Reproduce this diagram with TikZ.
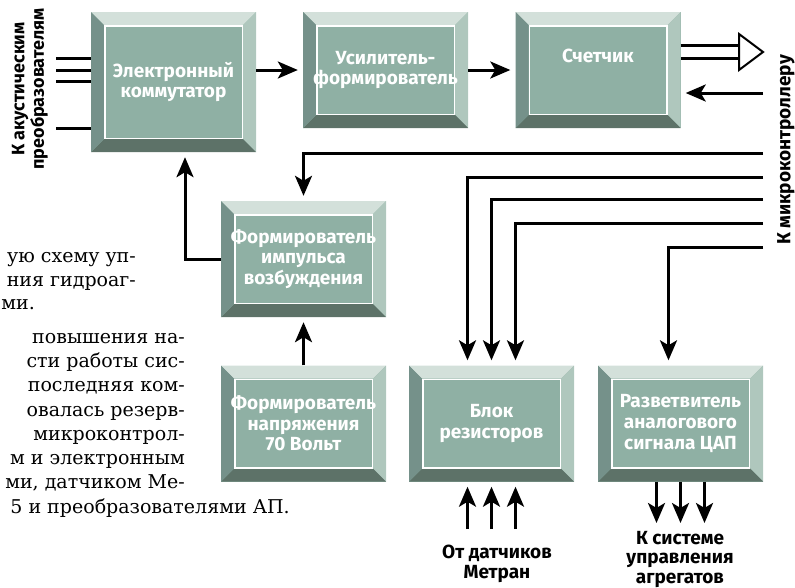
\documentclass[tikz,border=0pt]{standalone}
\usepackage{fontspec}
\setmainfont{DejaVu Serif}
\newfontfamily\blokfont{Fira Sans}
\usetikzlibrary{arrows.meta,calc}

\definecolor{bevTop}{HTML}{D3E0DA}
\definecolor{bevLeft}{HTML}{75918A}
\definecolor{bevRight}{HTML}{AFC7BD}
\definecolor{bevBottom}{HTML}{5D7268}
\definecolor{bevInner}{HTML}{8FB0A4}

\tikzset{
  blok/.style={minimum width=165pt, minimum height=116pt, inner sep=0pt,
    fill=bevInner, text=white, align=center,
    font=\blokfont\bfseries\fontsize{19}{20.7}\selectfont,
    path picture={
      \coordinate (pa) at (path picture bounding box.north west);
      \coordinate (pb) at (path picture bounding box.north east);
      \coordinate (pc) at (path picture bounding box.south east);
      \coordinate (pd) at (path picture bounding box.south west);
      \fill[bevTop] (pa) -- (pb) -- ($(pb)+(-13pt,-13pt)$) -- ($(pa)+(13pt,-13pt)$) -- cycle;
      \fill[bevRight] (pb) -- (pc) -- ($(pc)+(-13pt,13pt)$) -- ($(pb)+(-13pt,-13pt)$) -- cycle;
      \fill[bevBottom] (pc) -- (pd) -- ($(pd)+(13pt,13pt)$) -- ($(pc)+(-13pt,13pt)$) -- cycle;
      \fill[bevLeft] (pd) -- (pa) -- ($(pa)+(13pt,-13pt)$) -- ($(pd)+(13pt,13pt)$) -- cycle;
      \draw[white, line width=1.5pt] ($(pa)+(13.75pt,-13.75pt)$) rectangle ($(pc)+(-13.75pt,13.75pt)$);
    }},
  arr/.style={line width=3pt, -{Stealth[length=20pt,width=17pt,inset=5pt]}, shorten >=5pt},
  wire/.style={line width=3pt},
  lbl/.style={font=\blokfont\bfseries\fontsize{19}{19.5}\selectfont, inner sep=0pt, align=center},
  txt/.style={font=\fontsize{19}{24.5}\selectfont, inner sep=0pt, anchor=base east}
}

\begin{document}
\begin{tikzpicture}[x=1pt,y=-1pt]
\useasboundingbox (0,0) rectangle (795,587);

% Blocks
\node[blok, minimum height=140pt] (elkom) at (173.5,82) {Электронный\\коммутатор};
\node[blok] (usil) at (385.5,70) {Усилитель-\\формирователь};
\node[blok, text depth=29pt] (schet) at (598,70) {Счетчик};
\node[blok] (fimp) at (303.5,259) {Формирователь\\импульса\\возбуждения};
\node[blok] (fnapr) at (303.5,423.5) {Формирователь\\напряжения\\70 Вольт};
\node[blok] (blokrez) at (491.5,423.5) {Блок\\резисторов};
\node[blok] (razv) at (680.5,423.5) {Разветвитель\\аналогового\\сигнала ЦАП};

% Free ends towards the microcontroller
\coordinate (mkout) at (763,52);
\coordinate (mkin) at (763,93);
\coordinate (mk1) at (763,153);
\coordinate (mk2) at (763,177);
\coordinate (mk3) at (763,199);
\coordinate (mk4) at (763,223);
\coordinate (mk5) at (763,247);

% Main chain
\draw[arr] (elkom.east |- usil.west) -- (usil.west);
\draw[arr] (usil) -- (schet);
\draw[line width=3pt, double distance=10pt] (schet.east |- 0,51.5) -- ($(mkout)+(-24,-0.5)$);
\draw[line width=2pt, fill=white] ($(mkout)+(-24,-18)$) -- (mkout) -- ($(mkout)+(-24,18)$) -- cycle;
\draw[arr] (mkin) -- (mkin -| schet.east);

% Microcontroller lines
\draw[arr] (mk1) -| (fimp.north);
\draw[arr] (mk2) -| ([xshift=-24pt]blokrez.north);
\draw[arr] (mk3) -| (blokrez.north);
\draw[arr] (mk4) -| ([xshift=24pt]blokrez.north);
\draw[arr] (mk5) -| ([xshift=-12pt]razv.north);

% Excitation path
\draw[arr] (fimp.west) -| ([xshift=11.5pt]elkom.south);
\draw[arr] (fnapr) -- (fimp);

% Acoustic transducer inputs
\foreach \y [count=\i] in {58,70,81,128} {
  \coordinate (ak\i) at (56,\y);
  \draw[wire] (ak\i) -- (ak\i -| elkom.west);
}

% Sensor inputs and outputs
\foreach \dx [count=\i] in {-24,0,24} {
  \coordinate (dt\i) at (491.5+\dx,529);
  \draw[arr] (dt\i) -- (dt\i |- blokrez.south);
  \coordinate (su\i) at (680.5+\dx,528);
  \draw[arr] (su\i |- razv.south) -- (su\i);
}

% Labels
\node[lbl, rotate=90, font=\blokfont\bfseries\fontsize{18}{19.5}\selectfont] (akust) at (30,89) {К акустическим\\преобразователям};
\node[lbl, rotate=90] (mikro) at (786,150) {К микроконтроллеру};
\node[lbl] (metran) at (497,564) {От датчиков\\Метран};
\node[lbl, anchor=north] (sistema) at (680,531) {К системе\\управления\\агрегатов};

% Body text beside the figure
\foreach \xr/\yb/\s [count=\i] in {136/262/{ую схему уп-}, 136/286/{ния гидроаг-},
    35/309/{ми.}, 185/343/{повышения на-}, 185/367/{сти работы сис-},
    185/391/{последняя ком-}, 185/416/{овалась резерв-}, 185/440/{микроконтрол-},
    185/464/{м и электронным}, 185/488/{ми, датчиком Ме-},
    290/513/{5 и преобразователями АП.}}
  \node[txt] (p\i) at (\xr,\yb) {\s};

\end{tikzpicture}
\end{document}
